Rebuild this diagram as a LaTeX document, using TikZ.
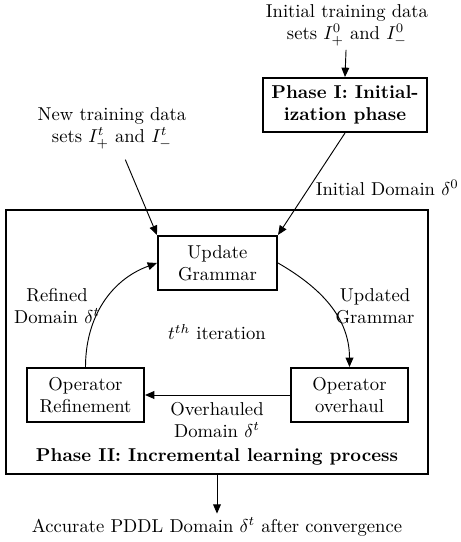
\documentclass[tikz,border=0pt]{standalone}
\usetikzlibrary{arrows.meta}
\begin{document}
\begin{tikzpicture}[x=0.537pt,y=0.537pt,
  box/.style={draw,line width=1.1pt,align=center,inner sep=0pt,minimum height=29pt},
  txt/.style={align=center,inner sep=2pt},
  arr/.style={-{Triangle[length=5pt,width=4.2pt]},line width=0.5pt}]
\useasboundingbox (0,0) rectangle (461,542);
\node[draw,line width=1.1pt,minimum width=226.6pt,minimum height=141.8pt,inner sep=0pt] (p2) at (217,200) {};
\node[txt] (t1) at (347,517) {Initial training data\\sets $I_+^0$ and $I_-^0$};
\node[box,minimum width=88.1pt,font=\bfseries] (p1) at (345,437) {Phase I: Initial-\\ization phase};
\node[txt] (nt) at (112,414) {New training data\\sets $I_+^t$ and $I_-^t$};
\node[txt,anchor=east,inner sep=0pt] (id) at (459,354) {Initial Domain $\delta^0$};
\node[box,minimum width=63.9pt] (ug) at (217.5,279) {Update\\Grammar};
\node[box,minimum width=62.8pt] (orf) at (85.5,147) {Operator\\Refinement};
\node[box,minimum width=62.8pt] (oo) at (349.5,147) {Operator\\overhaul};
\node[txt] (ug2) at (375,236) {Updated\\Grammar};
\node[txt] (rd) at (57,236) {Refined\\Domain $\delta^t$};
\node[txt] (it) at (217,210) {$t^{th}$ iteration};
\node[txt] (od) at (217,122) {Overhauled\\Domain $\delta^t$};
\node[txt,font=\bfseries] (p2l) at (217,85) {Phase II: Incremental learning process};
\node[txt] (acc) at (217,15) {Accurate PDDL Domain $\delta^t$ after convergence};
\draw[arr] (t1) -- (p1.north);
\draw[arr] (p1.south) -- (ug.north east);
\draw[arr,shorten <=4pt] (nt) -- (ug.north west);
\draw[arr] (ug.east) to[out=-30,in=90] (oo.north);
\draw[arr] (oo.west) -- (orf.east);
\draw[arr] (orf.north) to[out=90,in=200] (ug.west);
\draw[arr] (p2.south) -- (acc.north);
\end{tikzpicture}
\end{document}
